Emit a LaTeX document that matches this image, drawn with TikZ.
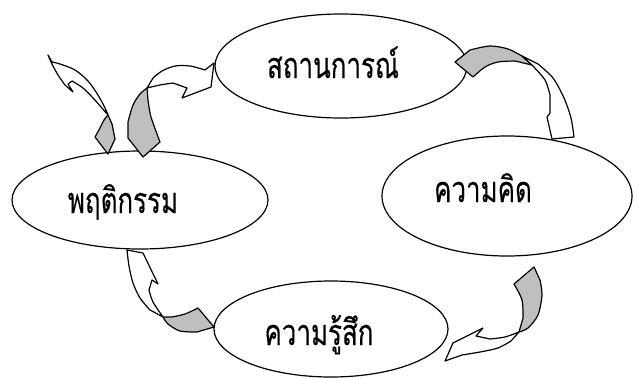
\documentclass[tikz,border=0pt]{standalone}
\usepackage{fontspec}
\newfontfamily\thaifont[Script=Thai,FakeBold=0.35]{Loma}
\usetikzlibrary{shapes.geometric}
\newcommand{\thx}[1]{\scalebox{0.72}[1]{#1}}
\begin{document}
\begin{tikzpicture}[x=1pt,y=-1pt,
  bubble/.style={ellipse, draw=black, line width=1.2pt, inner sep=0pt},
  thaitext/.style={anchor=base, inner sep=0pt, font=\thaifont\fontsize{36}{38}\selectfont},
  front/.style={draw=black, line width=1.2pt, fill=white, line join=round},
  back/.style={draw=black, line width=1.2pt, fill=black!25, line join=round}]
\useasboundingbox (0,0) rectangle (633,378);
% ellipses
\node[bubble, minimum width=252pt, minimum height=104pt] (sit) at (341,66) {};
\node[bubble, minimum width=250pt, minimum height=120pt] (think) at (507,196) {};
\node[bubble, minimum width=234pt, minimum height=96pt] (feel) at (331,329) {};
\node[bubble, minimum width=256pt, minimum height=98pt] (behave) at (140,200) {};
% texts
\node[thaitext] (tsit) at (333,78) {\thx{สถานการณ์}};
\node[thaitext] (tthink) at (483,202) {\thx{ความคิด}};
\node[thaitext] (tfeel) at (319,345) {\thx{ความรู้สึก}};
\node[thaitext] (tbehave) at (123,213) {\thx{พฤติกรรม}};
% arrow A (exit, top left)
\path[front] (48,55) -- plot[smooth] coordinates {(52,62) (60,64) (75,70) (88,81) (98,95) (105,108) (108,115)}
  -- plot[smooth] coordinates {(101,107) (94,99) (83,88) (72,81)} -- (68,84) -- (73,92)
  -- plot[smooth] coordinates {(65,85) (58,75) (52,64) (48,55)} -- cycle;
\path[back] (108,115) -- plot[smooth] coordinates {(112,124) (115,139)} -- (108,154) -- (95,137)
  -- plot[smooth] coordinates {(100,128) (104,120) (108,115)} -- cycle;
% arrow B (behaviour -> situation)
\path[back] (143,157) -- (128,138) -- plot[smooth] coordinates {(128,122) (133,105) (140,94) (147,88)}
  -- plot[smooth] coordinates {(148,100) (151,117) (160,142)} -- cycle;
\path[front] (147,88) -- plot[smooth] coordinates {(153,78) (162,71) (175,66) (190,66) (205,70)}
  -- (214,63) -- (211,87) -- (182,98) -- (187,88)
  -- plot[smooth] coordinates {(173,83) (160,85) (147,88)} -- cycle;
% arrow C (situation -> thought)
\path[back] (455,62) -- plot[smooth] coordinates {(470,50) (490,46) (508,49) (522,56)} -- (532,65)
  -- plot[smooth] coordinates {(515,61) (498,62) (485,67) (473,77)} -- cycle;
\path[front] (522,56) -- plot[smooth] coordinates {(538,64) (553,78) (564,98) (571,118) (574,137)}
  -- (552,139) -- (547,117) -- (550,113)
  -- plot[smooth] coordinates {(550,95) (545,80) (532,65)} -- cycle;
% arrow D (thought -> feeling)
\path[back] (514,284) -- (534,267) -- plot[smooth] coordinates {(540,280) (542,295) (538,315) (528,328) (519,332)}
  -- plot[smooth] coordinates {(523,318) (522,300) (514,284)} -- cycle;
\path[front] (519,332) -- plot[smooth] coordinates {(511,341) (498,348) (480,352) (462,355)}
  -- (445,361) -- (453,343) -- (483,328) -- (476,336)
  -- plot[smooth] coordinates {(490,339) (505,337) (519,332)} -- cycle;
% arrow E (feeling -> behaviour)
\path[back] (198,308) -- (214,327) -- plot[smooth] coordinates {(197,332) (180,331) (168,324) (163,317)}
  -- plot[smooth] coordinates {(172,317) (185,314) (198,308)} -- cycle;
\path[front] (163,317) -- plot[smooth] coordinates {(150,310) (140,298) (133,283) (129,266) (127,250)}
  -- (143,253) -- (158,284) -- (152,280)
  -- plot[smooth] coordinates {(149,290) (153,302) (163,317)} -- cycle;
\end{tikzpicture}
\end{document}
